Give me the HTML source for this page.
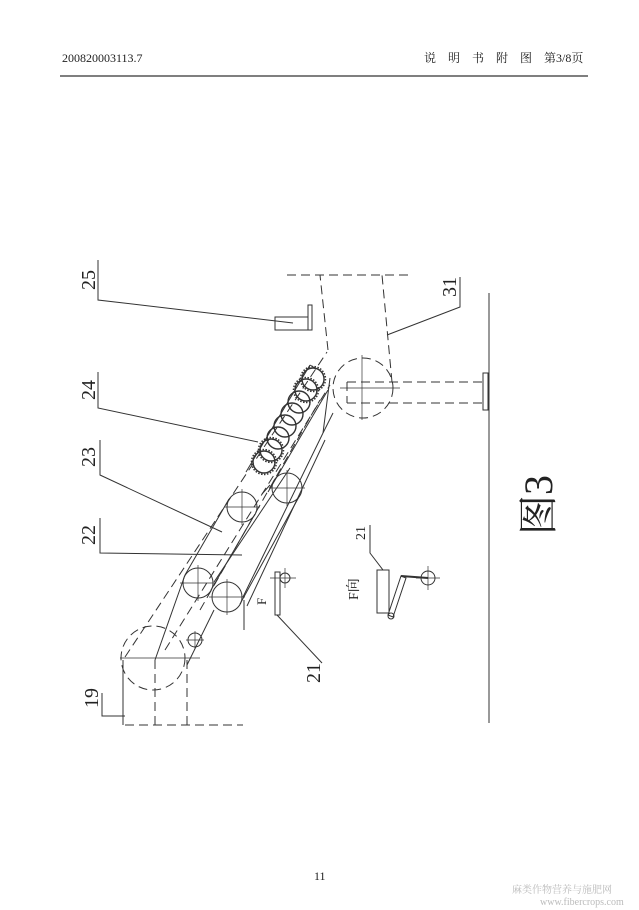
<!DOCTYPE html>
<html><head><meta charset="utf-8"><style>
html,body{margin:0;padding:0;background:#fff;}
svg{display:block;}
text{font-family:"Liberation Serif","Noto Serif CJK SC",serif;fill:#222;}
</style></head><body>
<svg width="639" height="910" viewBox="0 0 639 910" xmlns="http://www.w3.org/2000/svg">
<rect width="639" height="910" fill="#fff"/>
<text x="62" y="62" font-size="12">200820003113.7</text>
<text x="424" y="62" font-size="12" font-family="Noto Serif CJK SC,serif">说　明　书　附　图　第3/8页</text>
<line x1="60" y1="76" x2="588" y2="76" stroke="#333" stroke-width="1.2"/>

<g stroke="#333" stroke-width="1" fill="none">
<line x1="489" y1="293" x2="489" y2="723"/>
<rect x="483" y="373" width="5" height="37"/>
<g stroke-dasharray="9,5">
<circle cx="363" cy="388" r="30"/>
<line x1="347" y1="382" x2="483" y2="382"/>
<line x1="347" y1="403" x2="483" y2="403"/>
<line x1="347" y1="382" x2="347" y2="403"/>
<line x1="328" y1="350" x2="320" y2="275"/>
<line x1="392" y1="382" x2="382" y2="275"/>
<line x1="287" y1="275" x2="410" y2="275"/>
<line x1="125" y1="657" x2="327" y2="352"/>
<line x1="165" y1="650" x2="330" y2="385"/>
<line x1="200" y1="610" x2="320" y2="400"/>
<circle cx="153" cy="658" r="32"/>
<line x1="125" y1="725" x2="243" y2="725"/>
<line x1="155" y1="660" x2="155" y2="725"/>
<line x1="187" y1="660" x2="187" y2="725"/>
</g>
<line x1="123" y1="660" x2="123" y2="725"/>
<line x1="120" y1="658" x2="200" y2="658" stroke-width="0.7"/>
<line x1="362" y1="355" x2="362" y2="420" stroke-width="0.7"/>
<line x1="340" y1="388" x2="400" y2="388" stroke-width="0.7"/>
<circle cx="195" cy="640" r="7"/>
<line x1="186" y1="640" x2="204" y2="640" stroke-width="0.7"/>
<line x1="195" y1="631" x2="195" y2="649" stroke-width="0.7"/>
<line x1="155" y1="660" x2="185" y2="575"/>
<line x1="185" y1="575" x2="229" y2="499"/>
<line x1="211" y1="590" x2="255" y2="514"/>
<line x1="187" y1="665" x2="214" y2="610"/>
<line x1="240" y1="604" x2="300" y2="495"/>
<line x1="243" y1="597" x2="323" y2="433"/>
<line x1="247" y1="606" x2="325" y2="440"/>
<line x1="323" y1="433" x2="333" y2="413"/>
<line x1="323" y1="433" x2="330" y2="378"/>
<line x1="214" y1="582" x2="290" y2="468"/>
<circle cx="198" cy="583" r="15"/>
<circle cx="227" cy="597" r="15"/>
<circle cx="242" cy="507" r="15"/>
<circle cx="287" cy="488" r="15"/>
<g stroke-width="0.7">
<line x1="180" y1="583" x2="216" y2="583"/><line x1="198" y1="565" x2="198" y2="601"/>
<line x1="209" y1="597" x2="245" y2="597"/><line x1="227" y1="579" x2="227" y2="615"/>
<line x1="224" y1="507" x2="260" y2="507"/><line x1="242" y1="489" x2="242" y2="525"/>
<line x1="269" y1="488" x2="305" y2="488"/><line x1="287" y1="470" x2="287" y2="506"/>
</g>
<line x1="246" y1="472" x2="310" y2="365"/>
<line x1="310" y1="365" x2="315" y2="368"/>
<line x1="268" y1="492" x2="328" y2="390"/>
<line x1="262" y1="494" x2="270" y2="485"/>
<g stroke-width="1.4">
<circle cx="264" cy="462" r="11"/><circle cx="271" cy="450" r="11"/>
<circle cx="278" cy="438" r="11"/><circle cx="285" cy="426" r="11"/>
<circle cx="292" cy="414" r="11"/><circle cx="299" cy="402" r="11"/>
<circle cx="306" cy="390" r="11"/><circle cx="313" cy="379" r="11"/>
</g>
<g stroke-width="1.5" stroke-dasharray="1.5,1.5">
<circle cx="264" cy="462" r="12.5"/><circle cx="313" cy="379" r="12.5"/>
<circle cx="271" cy="450" r="12.5"/><circle cx="306" cy="390" r="12.5"/>
</g>
<rect x="275" y="317" width="33" height="13"/>
<rect x="308" y="305" width="4" height="25"/>
<polyline points="98,260 98,300 293,323"/>
<polyline points="98,372 98,408 258,442"/>
<polyline points="100,440 100,475 222,532"/>
<polyline points="100,518 100,553 242,555"/>
<polyline points="102,693 102,716 125,716"/>
<polyline points="460,277 460,307 387,335"/>
<polyline points="322,663 277,615"/>
<line x1="244" y1="600" x2="244" y2="630"/>
<rect x="275" y="572" width="5" height="43"/>
<circle cx="285" cy="578" r="5"/>
<line x1="270" y1="578" x2="296" y2="578" stroke-width="0.7"/>
<line x1="285" y1="568" x2="285" y2="588" stroke-width="0.7"/>
<rect x="377" y="570" width="12" height="43"/>
<polygon points="388,615 393,617 406,578 401,576"/>
<line x1="401" y1="576" x2="428" y2="578" stroke-width="2"/>
<circle cx="391" cy="616" r="3"/>
<circle cx="428" cy="578" r="7"/>
<line x1="416" y1="578" x2="440" y2="578" stroke-width="0.7"/>
<line x1="428" y1="566" x2="428" y2="590" stroke-width="0.7"/>
<polyline points="370,525 370,553 383,570"/>
</g>

<g font-size="20">
<text transform="translate(95,290) rotate(-90)">25</text>
<text transform="translate(95,400) rotate(-90)">24</text>
<text transform="translate(95,467) rotate(-90)">23</text>
<text transform="translate(95,545) rotate(-90)">22</text>
<text transform="translate(98,708) rotate(-90)">19</text>
<text transform="translate(320,683) rotate(-90)">21</text>
<text transform="translate(456,297) rotate(-90)">31</text>
<text font-size="14" transform="translate(365,540) rotate(-90)">21</text>
<text font-size="14" transform="translate(358,600) rotate(-90)">F向</text>
<text font-size="13" transform="translate(266,605) rotate(-90)">F</text>
<text font-size="40" transform="translate(552,535) rotate(-90)">图3</text>
</g>
<text x="314" y="880" font-size="12">11</text>
<text x="512" y="893" font-size="10" style="fill:#bbb" font-family="Noto Sans CJK SC,sans-serif">麻类作物营养与施肥网</text>
<text x="540" y="905" font-size="10" style="fill:#bbb" font-family="Liberation Sans,sans-serif">www.fibercrops.com</text>
</svg>
</body></html>
